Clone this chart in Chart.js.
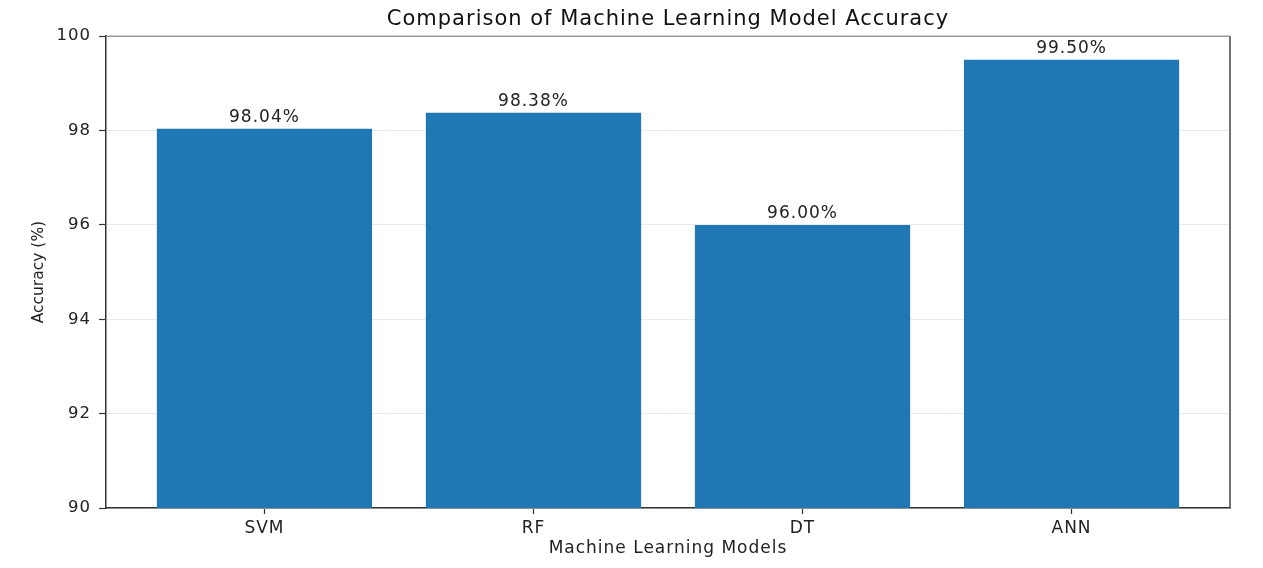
<!DOCTYPE html>
<html>
<head>
<meta charset="utf-8">
<script src="https://cdn.jsdelivr.net/npm/chart.js@4/dist/chart.umd.min.js"></script>
<style>
  html, body { margin: 0; padding: 0; background: #fff; }
  #wrap { width: 1263px; height: 568px; position: relative; }
</style>
</head>
<body>
<div id="wrap"><canvas id="myChart"></canvas></div>
<script>
var models = ['SVM', 'RF', 'DT', 'ANN'];
var accuracy = [98.04, 98.38, 96.00, 99.50];
var yTicks = [90, 92, 94, 96, 98, 100];

var FONT = "'DejaVu Sans', sans-serif";

// the reference text is a bit wider than plain DejaVu, so space letters out a little
var spacing = {
  id: 'spacing',
  beforeDraw: function (chart) {
    chart.ctx.letterSpacing = '1px';
  }
};

// percent labels on top of the bars
var barLabels = {
  id: 'barLabels',
  afterDatasetsDraw: function (chart) {
    var ctx = chart.ctx;
    var meta = chart.getDatasetMeta(0);
    ctx.save();
    ctx.font = '17px ' + FONT;
    ctx.fillStyle = '#222';
    ctx.textAlign = 'center';
    ctx.textBaseline = 'bottom';
    meta.data.forEach(function (bar, i) {
      ctx.fillText(accuracy[i].toFixed(2) + '%', bar.x, bar.y - 3);
    });
    ctx.restore();
  }
};

// top and right sides of the axes box + y axis title
var frame = {
  id: 'frame',
  afterDraw: function (chart) {
    var a = chart.chartArea;
    var ctx = chart.ctx;
    ctx.save();
    ctx.lineWidth = 1.5;
    ctx.strokeStyle = '#999';
    ctx.beginPath();
    ctx.moveTo(a.left, a.top);
    ctx.lineTo(a.right, a.top);
    ctx.stroke();
    ctx.strokeStyle = '#444';
    ctx.beginPath();
    ctx.moveTo(a.right, a.top);
    ctx.lineTo(a.right, a.bottom);
    ctx.stroke();

    ctx.letterSpacing = '0px';
    ctx.translate(39, (a.top + a.bottom) / 2);
    ctx.rotate(-Math.PI / 2);
    ctx.font = '15.5px ' + FONT;
    ctx.fillStyle = '#222';
    ctx.textAlign = 'center';
    ctx.textBaseline = 'middle';
    ctx.fillText('Accuracy (%)', 0, 0);
    ctx.restore();
  }
};

var ctx = document.getElementById('myChart').getContext('2d');

var myChart = new Chart(ctx, {
  type: 'bar',
  data: {
    datasets: [{
      label: 'Accuracy',
      data: accuracy.map(function (v, i) { return { x: i, y: v }; }),
      backgroundColor: '#1f77b4',
      borderWidth: 0,
      barPercentage: 0.8,
      categoryPercentage: 1.0
    }]
  },
  options: {
    responsive: true,
    maintainAspectRatio: false,
    animation: false,
    layout: { padding: { left: 0, right: 33, top: 0, bottom: 0 } },
    plugins: {
      legend: { display: false },
      tooltip: { enabled: false },
      title: {
        display: true,
        fullSize: false,
        text: 'Comparison of Machine Learning Model Accuracy',
        color: '#111',
        font: { family: FONT, size: 21, weight: 'normal' },
        padding: { top: 7, bottom: 4 }
      }
    },
    scales: {
      x: {
        type: 'linear',
        offset: false,
        min: -0.589,
        max: 3.589,
        afterBuildTicks: function (scale) {
          scale.ticks = models.map(function (m, i) { return { value: i }; });
        },
        afterFit: function (scale) { scale.height = 60; },
        ticks: {
          color: '#222',
          font: { family: FONT, size: 17 },
          padding: 4,
          maxRotation: 0,
          callback: function (value) { return models[value]; }
        },
        grid: {
          offset: false,
          drawOnChartArea: false,
          tickLength: 6,
          tickColor: '#333',
          tickWidth: 1.2
        },
        border: { color: '#333', width: 1.5 },
        title: {
          display: true,
          text: 'Machine Learning Models',
          color: '#222',
          font: { family: FONT, size: 17 },
          padding: { top: 0, bottom: 9 }
        }
      },
      y: {
        min: 90,
        max: 100,
        afterBuildTicks: function (scale) {
          scale.ticks = yTicks.map(function (v) { return { value: v }; });
        },
        afterFit: function (scale) { scale.width = 106; },
        ticks: {
          color: '#222',
          font: { family: FONT, size: 16.5 },
          padding: 8
        },
        grid: {
          color: '#ebebeb',
          lineWidth: 1,
          tickLength: 7,
          tickColor: '#333',
          tickWidth: 1.2
        },
        border: { color: '#333', width: 1.5 }
      }
    }
  },
  plugins: [spacing, barLabels, frame]
});
</script>
</body>
</html>
